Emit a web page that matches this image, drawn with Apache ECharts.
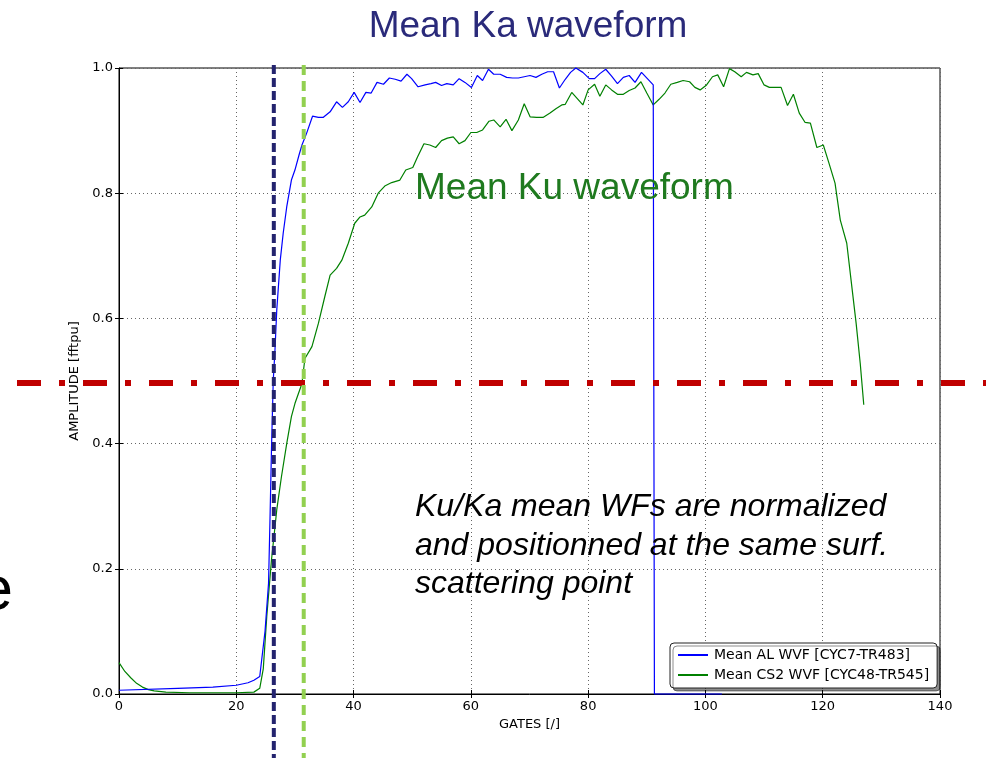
<!DOCTYPE html>
<html>
<head>
<meta charset="utf-8">
<script src="https://cdn.jsdelivr.net/npm/echarts@6/dist/echarts.min.js"></script>
<style>
html,body{margin:0;padding:0;background:#fff;}
#chart{width:986px;height:758px;}
</style>
</head>
<body>
<div id="chart"></div>
<script>
// ---- data ----
const alGates = [0,10,16,20,22,23,24,24.9,25.5,25.75,26.0,26.3,26.6,26.9,27.5,28.0,28.6,29.4,30.0,30.7,31.2,32,33,34,34.8,36,37.1,38.1,39.1,40.1,41.1,42.1,43,44,45.1,46.1,47.1,48.1,49.1,49.9,51,52.2,53.2,54,55,55.9,57,58,59,60.1,61.1,62,63,63.9,65,66.1,67.1,68.1,69.1,70.1,71.1,72.1,73.1,74.1,75.1,76.1,77,77.9,79.1,80.2,81.1,82,83,84,85,86,87,88,89.1,90.1,91.1,91.3,102.8];
const alAmp   = [0.006,0.009,0.011,0.014,0.018,0.022,0.028,0.10,0.177,0.28,0.39,0.50,0.55,0.613,0.693,0.736,0.778,0.821,0.837,0.861,0.877,0.896,0.923,0.921,0.921,0.930,0.946,0.937,0.946,0.961,0.945,0.961,0.960,0.977,0.974,0.984,0.982,0.979,0.990,0.983,0.970,0.973,0.975,0.977,0.972,0.975,0.973,0.983,0.977,0.969,0.988,0.980,0.998,0.990,0.990,0.985,0.984,0.984,0.986,0.988,0.985,0.990,0.994,0.994,0.968,0.982,0.993,1.000,0.993,0.983,0.983,0.991,0.998,0.987,0.975,0.985,0.988,0.977,0.993,0.983,0.973,0.0,0.0];
const cs2Gates = [0,1,2,3,4,5,6,8,12,16,20,23,24,24.6,25.2,26.0,26.9,27.7,28.6,29.4,30.0,31.2,31.7,32.9,34.0,35.1,36.0,37.1,38.0,39.1,40.2,41.1,41.9,43.1,44.2,45.4,46.5,47.9,48.9,50.1,50.9,52,53,54,55,56,57,58,59,60,61,62,63.1,63.9,65,66,67,68.1,69.1,70.1,71.2,72.3,73.5,74.5,75.5,76.1,77.2,79.1,80,81.1,82,83,84,85,86,87,88,89,90,91.1,92.1,93.1,94.1,95.2,96.2,97.3,98.2,99.1,100.2,101.2,102.1,103.1,104.1,105,106.1,107,108.1,109,110,110.9,111.9,112.9,114,115,116,117,117.9,119,120.1,121,122.1,123,124.1,124.9,125.7,126.4,127];
const cs2Amp   = [0.050,0.036,0.026,0.017,0.011,0.007,0.005,0.003,0.002,0.002,0.002,0.003,0.009,0.040,0.124,0.214,0.294,0.347,0.400,0.443,0.464,0.496,0.536,0.555,0.592,0.635,0.669,0.680,0.693,0.720,0.752,0.762,0.765,0.778,0.800,0.812,0.817,0.821,0.837,0.841,0.858,0.879,0.877,0.873,0.884,0.888,0.890,0.879,0.884,0.897,0.897,0.901,0.915,0.917,0.906,0.918,0.900,0.917,0.943,0.922,0.921,0.921,0.928,0.935,0.941,0.942,0.961,0.941,0.965,0.974,0.955,0.973,0.965,0.958,0.958,0.964,0.968,0.978,0.960,0.941,0.950,0.960,0.974,0.977,0.980,0.978,0.969,0.965,0.973,0.986,0.989,0.970,0.999,0.994,0.986,0.993,0.989,0.991,0.973,0.969,0.969,0.969,0.940,0.958,0.928,0.913,0.912,0.873,0.877,0.850,0.816,0.757,0.720,0.656,0.592,0.528,0.462];
const seriesNames = ['Mean AL WVF [CYC7-TR483]', 'Mean CS2 WVF [CYC48-TR545]'];
const kaGate = 26.4;     // navy dashed marker
const kuGate = 31.5;     // light green dashed marker
const halfLevel = 0.497; // red dash-dot level
const xTicks = {min: 0, max: 140, interval: 20};
const yTicks = {min: 0, max: 1.0, interval: 0.2};
const kaTitle = 'Mean Ka waveform';
const kuTitle = 'Mean Ku waveform';
const noteLines = ['Ku/Ka mean WFs are normalized', 'and positionned at the same surf.', 'scattering point'];

const zip = (xs, ys) => xs.map((x, i) => [x, ys[i]]);
const mpl = 'DejaVu Sans';
const chart = echarts.init(document.getElementById('chart'), null, {renderer: 'canvas'});

const splitStyle = {show: true, lineStyle: {color: '#666', type: [1, 3], width: 1}};
chart.setOption({
  animation: false,
  backgroundColor: '#fff',
  grid: {left: 119, right: 46, top: 68, bottom: 64, show: true, borderColor: '#000', borderWidth: 1, backgroundColor: 'transparent'},
  legend: {
    data: seriesNames,
    orient: 'vertical',
    left: 670, top: 643,
    padding: [5, 8, 6, 8],
    itemGap: 6,
    itemWidth: 30, itemHeight: 2,
    icon: 'rect',
    backgroundColor: '#fff',
    borderColor: '#222', borderWidth: 1, borderRadius: 4,
    shadowColor: 'rgba(0,0,0,0.45)', shadowBlur: 0, shadowOffsetX: 3, shadowOffsetY: 3,
    textStyle: {fontFamily: mpl, fontSize: 14, color: '#000', padding: [0, 0, 0, 1]}
  },
  xAxis: [{
    type: 'value', min: xTicks.min, max: xTicks.max, interval: xTicks.interval,
    name: 'GATES [/]', nameLocation: 'middle', nameGap: 22,
    nameTextStyle: {fontFamily: mpl, fontSize: 13, color: '#000'},
    axisLine: {show: true, lineStyle: {color: '#000', width: 1}},
    axisTick: {show: true, inside: true, length: 4, lineStyle: {color: '#000'}},
    axisLabel: {fontFamily: mpl, fontSize: 13, color: '#000', margin: 6},
    splitLine: splitStyle
  }, {
    type: 'value', position: 'top', min: xTicks.min, max: xTicks.max, interval: xTicks.interval,
    axisLine: {show: false}, axisTick: {show: true, inside: true, length: 4, lineStyle: {color: '#000'}},
    axisLabel: {show: false}, splitLine: {show: false}
  }],
  yAxis: [{
    type: 'value', min: yTicks.min, max: yTicks.max, interval: yTicks.interval,
    name: 'AMPLITUDE [fftpu]', nameLocation: 'middle', nameGap: 32, nameRotate: 90,
    nameTextStyle: {fontFamily: mpl, fontSize: 13, color: '#000'},
    axisLine: {show: true, lineStyle: {color: '#000', width: 1}},
    axisTick: {show: true, inside: true, length: 4, lineStyle: {color: '#000'}},
    axisLabel: {fontFamily: mpl, fontSize: 13, color: '#000', margin: 6, formatter: v => v.toFixed(1)},
    splitLine: splitStyle
  }, {
    type: 'value', position: 'right', min: yTicks.min, max: yTicks.max, interval: yTicks.interval,
    axisLine: {show: false}, axisTick: {show: true, inside: true, length: 4, lineStyle: {color: '#000'}},
    axisLabel: {show: false}, splitLine: {show: false}
  }],
  series: [{
    name: seriesNames[0], type: 'line', data: zip(alGates, alAmp),
    symbol: 'none', lineStyle: {color: '#0000ff', width: 1.2}, itemStyle: {color: '#0000ff'}, clip: false, z: 3
  }, {
    name: seriesNames[1], type: 'line', data: zip(cs2Gates, cs2Amp),
    symbol: 'none', lineStyle: {color: '#008000', width: 1.2}, itemStyle: {color: '#008000'}, clip: false, z: 2
  }]
});

const xKa = chart.convertToPixel({xAxisIndex: 0}, kaGate);
const xKu = chart.convertToPixel({xAxisIndex: 0}, kuGate);
const yHalf = chart.convertToPixel({yAxisIndex: 0}, halfLevel);

chart.setOption({
  graphic: [
    {type: 'line', z: 100, shape: {x1: 17, y1: yHalf, x2: 986, y2: yHalf},
     style: {stroke: '#c00000', lineWidth: 6, lineDash: [24, 18, 6, 18]}},
    {type: 'line', z: 101, shape: {x1: xKa, y1: 65, x2: xKa, y2: 758},
     style: {stroke: '#23236e', lineWidth: 4, lineDash: [9, 4]}},
    {type: 'line', z: 101, shape: {x1: xKu, y1: 65, x2: xKu, y2: 758},
     style: {stroke: '#92d050', lineWidth: 4, lineDash: [10, 6]}},
    {type: 'text', z: 102, x: 528, y: 27,
     style: {text: kaTitle, fill: '#2a2a7a', font: '37px "Liberation Sans"', textAlign: 'center', textVerticalAlign: 'middle'}},
    {type: 'text', z: 102, x: 415, y: 189,
     style: {text: kuTitle, fill: '#1f7a1f', font: '37px "Liberation Sans"', textAlign: 'left', textVerticalAlign: 'middle'}},
    {type: 'text', z: 102, x: 415, y: 507,
     style: {text: noteLines[0], fill: '#000', font: 'italic 32px "Liberation Sans"', textAlign: 'left', textVerticalAlign: 'middle'}},
    {type: 'text', z: 102, x: 415, y: 546,
     style: {text: noteLines[1], fill: '#000', font: 'italic 32px "Liberation Sans"', textAlign: 'left', textVerticalAlign: 'middle'}},
    {type: 'text', z: 102, x: 415, y: 584,
     style: {text: noteLines[2], fill: '#000', font: 'italic 32px "Liberation Sans"', textAlign: 'left', textVerticalAlign: 'middle'}},
    {type: 'text', z: 102, x: 13, y: 592,
     style: {text: 'e', fill: '#000', font: '62px "Liberation Sans"', textAlign: 'right', textVerticalAlign: 'middle'}}
  ]
});
</script>
</body>
</html>
